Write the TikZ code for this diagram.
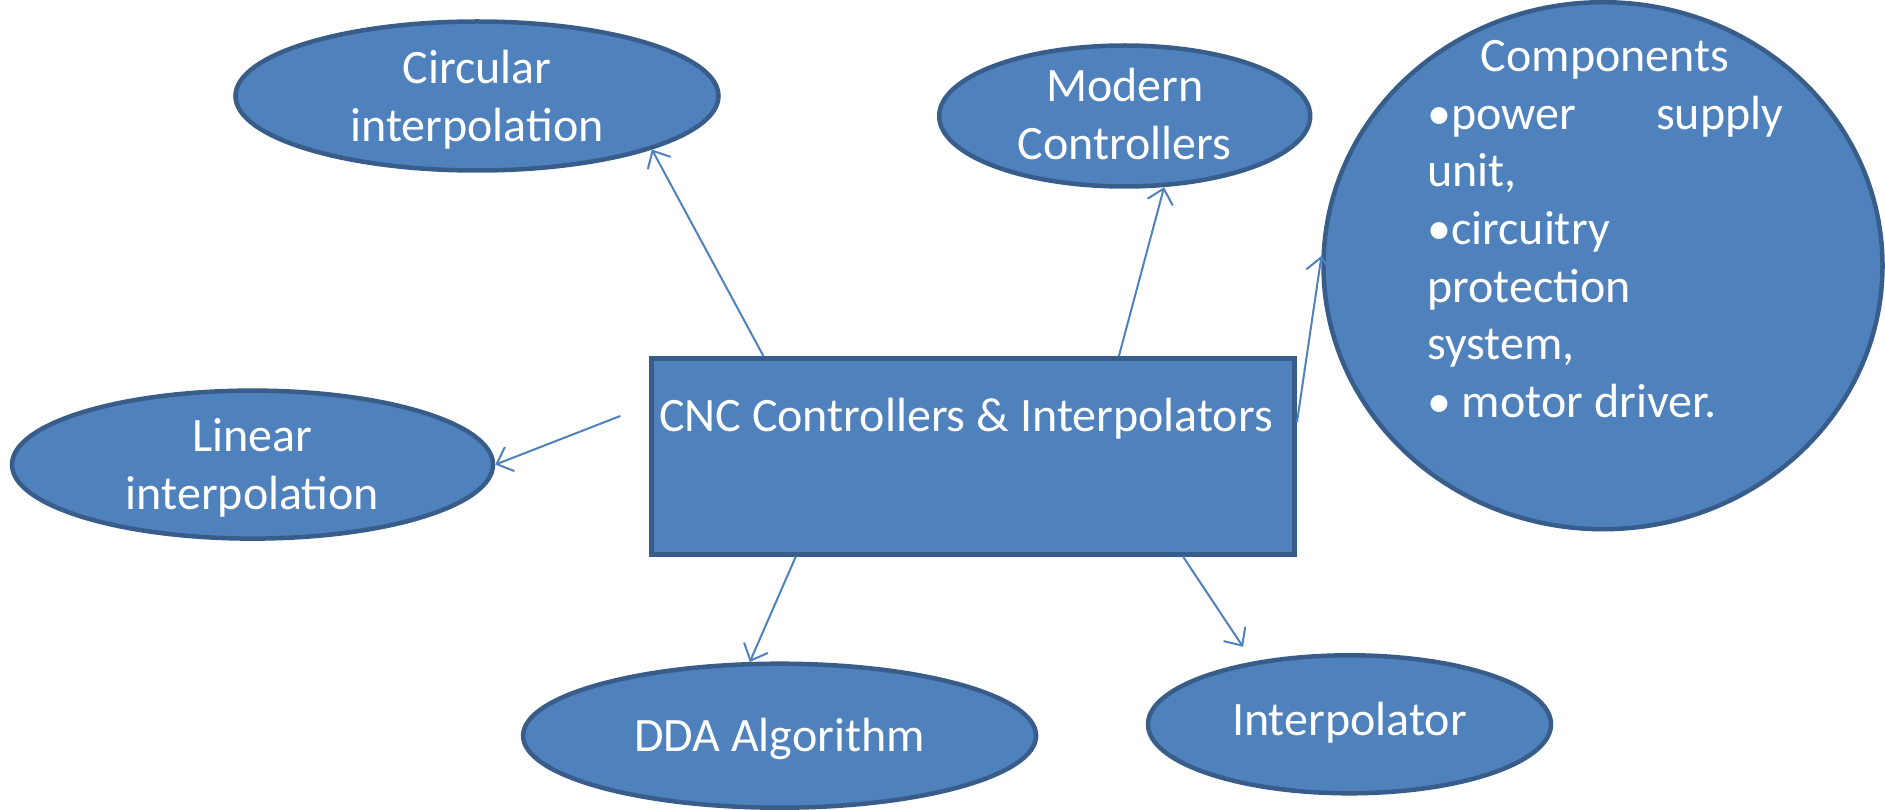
\documentclass[tikz,border=0pt]{standalone}
\usepackage{fontspec}
\setmainfont{Carlito}
\usetikzlibrary{arrows.meta,calc,shapes.geometric}
\definecolor{fillblue}{HTML}{4F81BD}
\definecolor{edgeblue}{HTML}{385D8A}
\tikzset{
  ell/.style={ellipse,draw=edgeblue,fill=fillblue,line width=4.5pt,inner sep=0pt},
  box/.style={rectangle,draw=edgeblue,fill=fillblue,line width=4.5pt,inner sep=0pt},
  txt/.style={text=white,align=center,font=\fontsize{48}{57.7}\selectfont,inner sep=0pt},
  conn/.style={draw=fillblue,line width=2pt,-{Straight Barb[length=14pt,width=26pt,line width=2pt]}}
}
\begin{document}
\begin{tikzpicture}[x=1pt,y=-1pt]
\useasboundingbox (0,0) rectangle (1885,810);
% nodes
\node[box,minimum width=643pt,minimum height=196pt] (cnc) at (973.2,456.3) {};
\node[txt] (cncT) at (966,419) {CNC Controllers \& Interpolators};
\node[ell,minimum width=483pt,minimum height=149pt] (circ) at (477,96) {};
\node[txt] (circT) at (477,100) {Circular\\interpolation};
\node[ell,minimum width=371pt,minimum height=141pt] (mod) at (1124.7,116) {};
\node[txt] (modT) at (1124.7,114) {Modern\\Controllers};
\node[ell,minimum width=559pt,minimum height=527pt] (comp) at (1603,265.7) {};
\node[txt,align=left,anchor=north west] (compT) at (1427,40) {%
  \hbox to 356pt{\hfil Components\hfil}\\
  \hbox to 356pt{•power\hfill supply}\\
  unit,\\
  •circuitry\\
  protection\\
  system,\\
  • motor driver.};
\node[ell,minimum width=481pt,minimum height=148pt] (lin) at (252.5,464.6) {};
\node[txt] (linT) at (252.5,468) {Linear\\interpolation};
\node[ell,minimum width=513pt,minimum height=144pt] (dda) at (779.6,735.7) {};
\node[txt] (ddaT) at (779.6,739) {DDA Algorithm};
\node[ell,minimum width=403pt,minimum height=138pt] (intp) at (1349.5,724.3) {};
\node[txt] (intpT) at (1349.5,723) {Interpolator};
% free ends
\coordinate (linS) at (620.3,416);
\coordinate (intpE) at (1243,646.8);
% connectors
\draw[conn] ($(cnc.north west)!0.176!(cnc.north east)$) -- (circ.-17);
\draw[conn] ($(cnc.north west)!0.725!(cnc.north east)$) -- (mod.-61);
\draw[conn] ($(cnc.north east)!0.331!(cnc.south east)$) -- (comp.178);
\draw[conn] (linS) -- (lin.east);
\draw[conn] ($(cnc.south west)!0.226!(cnc.south east)$) -- (dda.112);
\draw[conn] ($(cnc.south west)!0.824!(cnc.south east)$) -- (intpE);
\end{tikzpicture}
\end{document}
